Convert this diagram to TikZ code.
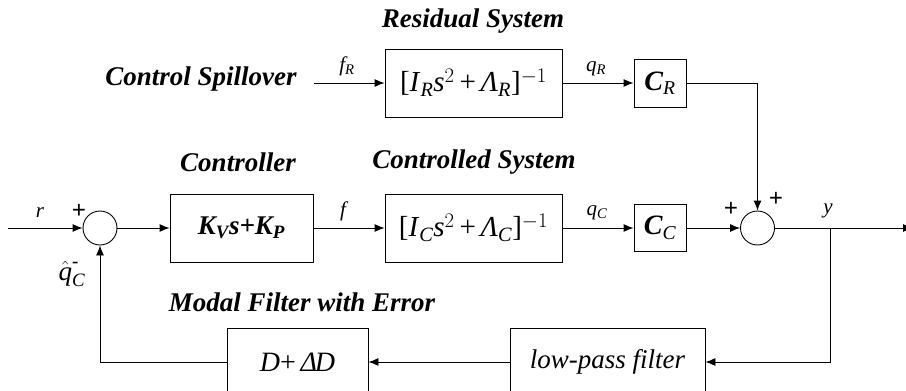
\documentclass[tikz,border=0pt]{standalone}
\usepackage{amsmath}
\usepackage{fontspec}
\setmainfont{Liberation Serif}
\usetikzlibrary{arrows.meta}

\begin{document}
\begin{tikzpicture}[x=1pt,y=-1pt,line width=0.9pt,
		arr/.style={-{Latex[length=10pt,width=8pt]}},
		blk/.style 2 args={draw,inner sep=0pt,minimum width=#1,minimum height=#2},
		sumnode/.style={draw,circle,inner sep=0pt,minimum size=34pt},
		title/.style={font=\fontsize{27}{30}\selectfont\bfseries\itshape},
		lbl/.style={font=\fontsize{21}{24}\selectfont\itshape},
		sgn/.style={font=\fontsize{25}{28}\selectfont\bfseries}]
	\useasboundingbox (0,0) rectangle (906,391);
	% headings
	\node[title] (tres) at (473,21) {Residual System};
	\node[title] (tctrl) at (238,162) {Controller};
	\node[title] (tplant) at (474,162) {Controlled System};
	\node[title] (tmf) at (302,302) {Modal Filter with Error};
	\node[title] (spill) at (201,79) {Control Spillover};
	% blocks
	\node[blk={177pt}{68pt},font=\fontsize{29}{32}\selectfont] (res) at (473.5,83)
		{[\textit{I}$_{\textit{R}}$\textit{s}$^{2}$\,+\,\textit{Λ}$_{\textit{R}}$]$^{-1}$};
	\node[blk={52pt}{48pt},font=\fontsize{28}{30}\selectfont\bfseries\itshape] (cr) at (660,83)
		{C$_{\text{\mdseries\itshape R}}$};
	\node[blk={143pt}{68pt},font=\fontsize{27}{30}\selectfont\bfseries\itshape] (ctrl) at (241.5,228)
		{K$_{\textbf{\textit{V}}}$s+K$_{\textbf{\textit{P}}}$};
	\node[blk={177pt}{68pt},font=\fontsize{29}{32}\selectfont] (plant) at (473.5,228)
		{[\textit{I}$_{\textit{C}}$\textit{s}$^{2}$\,+\,\textit{Λ}$_{\textit{C}}$]$^{-1}$};
	\node[blk={52pt}{47pt},font=\fontsize{28}{30}\selectfont\bfseries\itshape] (cc) at (660,228)
		{C$_{\text{\mdseries\itshape C}}$};
	\node[blk={141pt}{68pt},font=\fontsize{28}{30}\selectfont] (mf) at (297.5,362)
		{\textit{D}+\,\textit{Δ\kern-2pt D}};
	\node[blk={195pt}{68pt},font=\fontsize{27}{30}\selectfont\itshape] (lpf) at (607.5,362)
		{low-pass filter};
	\node[sumnode] (sum1) at (100,228) {};
	\node[sumnode] (sum2) at (757.5,228) {};
	\coordinate (in) at (8,228);
	\coordinate (br) at (830,228);
	\coordinate (out) at (913,228);
	% connectors
	\draw[arr] (in) -- (sum1);
	\draw[arr] (sum1) -- (ctrl);
	\draw[arr] (ctrl) -- (plant);
	\draw[arr] (plant) -- (cc);
	\draw[arr] (cc) -- (sum2);
	\draw (sum2) -- (br);
	\draw[arr] (br) -- (out);
	\draw[arr] (br) |- (lpf);
	\draw[arr] (lpf) -- (mf);
	\draw[arr] (mf) -| (sum1);
	\draw[arr] (spill.east) ++(14,4) coordinate (fr) (fr) -- (res);
	\draw[arr] (res) -- (cr);
	\draw[arr] (cr) -| (sum2);
	% signal labels
	\node[lbl] (lr) at (40,213) {r};
	\node[lbl] (lfr) at (347,66) {f$_{\textit{R}}$};
	\node[lbl] (lf) at (343,211) {f};
	\node[lbl] (lqr) at (596,69) {q$_{\textit{R}}$};
	\node[lbl] (lqc) at (597,213) {q$_{\textit{C}}$};
	\node[lbl] (ly) at (828,211) {y};
	\node[lbl,font=\fontsize{27}{30}\selectfont] (lqh) at (72,274) {$\hat{\textit{q}}^{\textbf{-}}_{\textit{C}}$};
	\node[sgn] (p1) at (79,211) {+};
	\node[sgn] (p2) at (731,209) {+};
	\node[sgn] (p3) at (776,199) {+};
\end{tikzpicture}
\end{document}
